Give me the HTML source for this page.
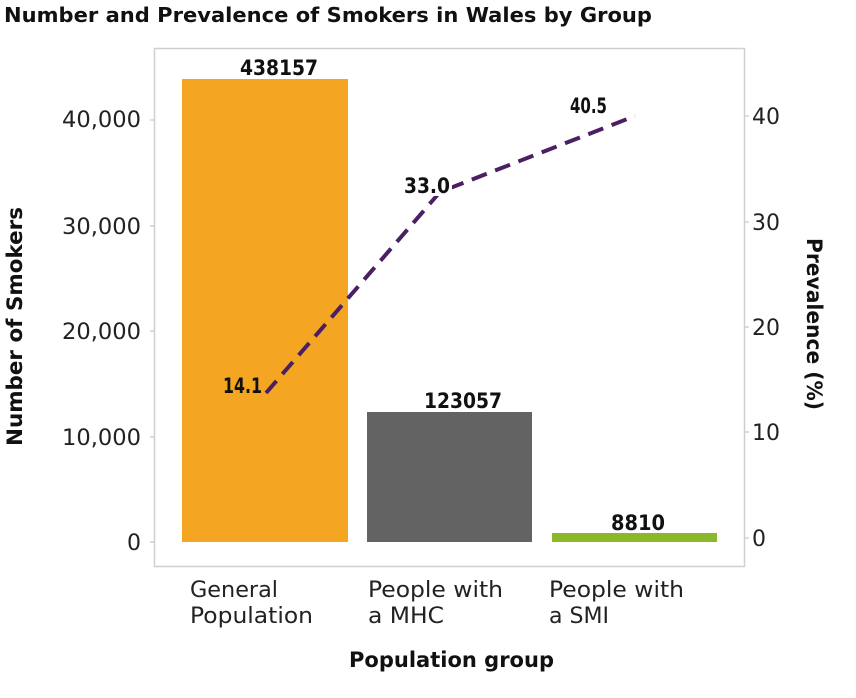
<!DOCTYPE html>
<html><head><meta charset="utf-8"><style>body{margin:0;background:#fff}</style></head><body>
<svg width="856" height="693" xmlns="http://www.w3.org/2000/svg" font-family="DejaVu Sans, sans-serif">
<rect width="856" height="693" fill="#fff"/>
<text x="4" y="22" font-size="20" font-weight="bold" fill="#111" textLength="648" lengthAdjust="spacingAndGlyphs">Number and Prevalence of Smokers in Wales by Group</text>
<rect x="154.5" y="48.5" width="590" height="518" fill="none" stroke="#cfcfcf" stroke-width="1.5"/>
<g stroke="#bbb"><line x1="150" x2="154" y1="542" y2="542"/><line x1="150" x2="154" y1="437" y2="437"/><line x1="150" x2="154" y1="331" y2="331"/><line x1="150" x2="154" y1="226" y2="226"/><line x1="150" x2="154" y1="120" y2="120"/>
<line x1="745" x2="749" y1="538" y2="538"/><line x1="745" x2="749" y1="432" y2="432"/><line x1="745" x2="749" y1="327" y2="327"/><line x1="745" x2="749" y1="222" y2="222"/><line x1="745" x2="749" y1="116" y2="116"/></g>
<g font-size="22" fill="#222" text-anchor="end"><text x="141" y="550">0</text><text x="141" y="445" textLength="79" lengthAdjust="spacingAndGlyphs">10,000</text><text x="141" y="339" textLength="79" lengthAdjust="spacingAndGlyphs">20,000</text><text x="141" y="234" textLength="79" lengthAdjust="spacingAndGlyphs">30,000</text><text x="141" y="127" textLength="79" lengthAdjust="spacingAndGlyphs">40,000</text></g>
<g font-size="22" fill="#222"><text x="752" y="546">0</text><text x="752" y="440">10</text><text x="752" y="335">20</text><text x="752" y="230">30</text><text x="752" y="124">40</text></g>
<rect x="182" y="79" width="166" height="463" fill="#f4a623"/>
<rect x="367" y="412" width="165" height="130" fill="#636363"/>
<rect x="552" y="533" width="165" height="9" fill="#8ab828"/>
<g font-size="21" font-weight="bold" fill="#111"><text x="240" y="75" textLength="78" lengthAdjust="spacingAndGlyphs">438157</text><text x="424" y="408" textLength="78" lengthAdjust="spacingAndGlyphs">123057</text><text x="611" y="530" textLength="54" lengthAdjust="spacingAndGlyphs">8810</text></g>
<polyline points="266,393 440,192 635,116" fill="none" stroke="#4a1f63" stroke-width="4" stroke-dasharray="16,9"/>
<rect x="402" y="174" width="50" height="22" fill="#fff"/>
<g font-size="21" font-weight="bold" fill="#111"><text x="223" y="393" textLength="39" lengthAdjust="spacingAndGlyphs">14.1</text><text x="404" y="193" textLength="46" lengthAdjust="spacingAndGlyphs">33.0</text><text x="570" y="113" textLength="37" lengthAdjust="spacingAndGlyphs">40.5</text></g>
<g font-size="22" fill="#222"><text x="190" y="597" textLength="88" lengthAdjust="spacingAndGlyphs">General</text><text x="190" y="623" textLength="123" lengthAdjust="spacingAndGlyphs">Population</text><text x="368" y="597" textLength="135" lengthAdjust="spacingAndGlyphs">People with</text><text x="368" y="623" textLength="76" lengthAdjust="spacingAndGlyphs">a MHC</text><text x="549" y="597" textLength="135" lengthAdjust="spacingAndGlyphs">People with</text><text x="549" y="623" textLength="60" lengthAdjust="spacingAndGlyphs">a SMI</text></g>
<text x="349" y="667" font-size="21" font-weight="bold" fill="#111" textLength="205" lengthAdjust="spacingAndGlyphs">Population group</text>
<text transform="translate(22,446) rotate(-90)" font-size="21" font-weight="bold" fill="#111" textLength="239" lengthAdjust="spacingAndGlyphs">Number of Smokers</text>
<text transform="translate(807,238) rotate(90)" font-size="21" font-weight="bold" fill="#111" textLength="172" lengthAdjust="spacingAndGlyphs">Prevalence (%)</text>
</svg>
</body></html>
